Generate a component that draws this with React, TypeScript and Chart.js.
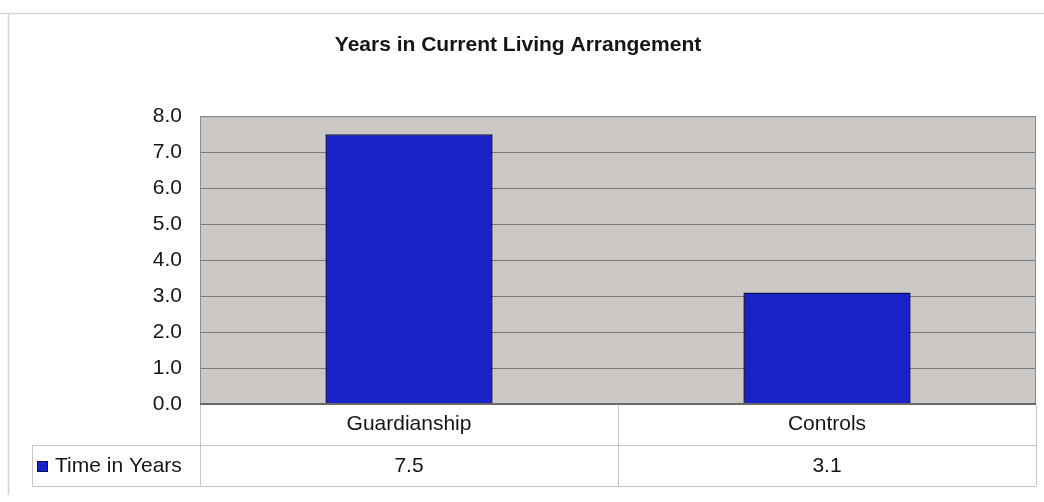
import React, { useEffect, useRef } from "react";
import { Chart, registerables } from "chart.js";

Chart.register(...registerables);

const TITLE = "Years in Current Living Arrangement";
const CATEGORIES = ["Guardianship", "Controls"];
const SERIES_NAME = "Time in Years";
const SERIES_VALUES = [7.5, 3.1];
const Y_MIN = 0;
const Y_MAX = 8;
const Y_STEP = 1;

const FONT = "'Liberation Sans', Arial, sans-serif";
const FS = 21;
const BAR_COLOR = "#1a23c8";
const BAR_BORDER = "#0a0f50";
const PLOT_BG = "#cbc8c6";
const GRID = "#7a7a7a";
const TABLE_LINE = "#c4c4c4";
const TEXT = "#151515";

const W = 1044;
const H = 502;

const framePlugin = {
  id: "frame",
  beforeDraw(chart: any) {
    const { ctx, chartArea } = chart;
    ctx.save();
    ctx.fillStyle = "#ffffff";
    ctx.fillRect(0, 0, chart.width, chart.height);
    ctx.strokeStyle = "#d4d4d4";
    ctx.lineWidth = 1.5;
    ctx.beginPath();
    ctx.moveTo(0, 13.5);
    ctx.lineTo(W, 13.5);
    ctx.moveTo(8.5, 13.5);
    ctx.lineTo(8.5, 495);
    ctx.stroke();
    ctx.fillStyle = PLOT_BG;
    ctx.fillRect(chartArea.left, chartArea.top, chartArea.right - chartArea.left, chartArea.bottom - chartArea.top);
    ctx.restore();
  },
  afterDraw(chart: any) {
    const { ctx, chartArea } = chart;
    const L = chartArea.left;
    const R = chartArea.right;
    const B = chartArea.bottom;
    const row1 = B + 41;
    const row2 = B + 82;
    const tableLeft = 32;
    ctx.save();
    ctx.strokeStyle = "#8c8c8c";
    ctx.lineWidth = 1;
    ctx.beginPath();
    ctx.moveTo(L + 0.5, chartArea.top + 0.5);
    ctx.lineTo(R - 0.5, chartArea.top + 0.5);
    ctx.lineTo(R - 0.5, B);
    ctx.moveTo(L + 0.5, chartArea.top);
    ctx.lineTo(L + 0.5, B);
    ctx.stroke();
    ctx.strokeStyle = "#6a6a6a";
    ctx.lineWidth = 2;
    ctx.beginPath();
    ctx.moveTo(L, B);
    ctx.lineTo(R, B);
    ctx.stroke();
    ctx.strokeStyle = TABLE_LINE;
    ctx.lineWidth = 1;
    ctx.beginPath();
    const n = CATEGORIES.length;
    const colW = (R - L) / n;
    for (let i = 0; i <= n; i++) {
      const cx = Math.round(L + i * colW) + 0.5;
      ctx.moveTo(cx, B + 1);
      ctx.lineTo(cx, row2);
    }
    ctx.moveTo(tableLeft, row1 + 0.5);
    ctx.lineTo(R, row1 + 0.5);
    ctx.moveTo(tableLeft, row2 + 0.5);
    ctx.lineTo(R, row2 + 0.5);
    ctx.moveTo(tableLeft + 0.5, row1);
    ctx.lineTo(tableLeft + 0.5, row2);
    ctx.stroke();
    ctx.fillStyle = BAR_COLOR;
    ctx.fillRect(38, 462, 9, 9);
    ctx.strokeStyle = BAR_BORDER;
    ctx.lineWidth = 1;
    ctx.strokeRect(37.5, 461.5, 10, 10);
    ctx.fillStyle = TEXT;
    ctx.font = `${FS}px ${FONT}`;
    ctx.textBaseline = "middle";
    ctx.textAlign = "left";
    ctx.fillText(SERIES_NAME, 55, 466);
    ctx.textAlign = "center";
    SERIES_VALUES.forEach((v, i) => {
      const cx = L + (i + 0.5) * colW;
      ctx.fillText(v.toFixed(1), cx, 466);
    });
    ctx.restore();
  },
};

export default function App() {
  const ref = useRef<HTMLCanvasElement>(null);
  useEffect(() => {
    document.body.style.margin = "0";
    const chart = new Chart(ref.current!, {
      type: "bar",
      data: {
        labels: CATEGORIES,
        datasets: [
          {
            label: SERIES_NAME,
            data: SERIES_VALUES,
            backgroundColor: BAR_COLOR,
            borderColor: BAR_BORDER,
            borderWidth: 1.5,
            categoryPercentage: 0.8,
            barPercentage: 0.5,
          },
        ],
      },
      options: {
        responsive: false,
        animation: false,
        layout: { padding: { left: 0, right: 8, top: 0, bottom: 0 } },
        plugins: {
          legend: { display: false },
          tooltip: { enabled: false },
          title: {
            display: true,
            text: TITLE,
            color: TEXT,
            font: { family: FONT, size: 21, weight: "bold" },
            padding: { top: 33, bottom: 58 },
          },
        },
        scales: {
          x: {
            grid: { display: false, drawTicks: false },
            border: { display: false },
            ticks: {
              color: TEXT,
              font: { family: FONT, size: FS },
              padding: 8,
            },
            afterFit: (s: any) => {
              s.height = 98;
            },
          },
          y: {
            min: Y_MIN,
            max: Y_MAX,
            grid: { color: GRID, drawTicks: false, lineWidth: 1 },
            border: { display: false },
            ticks: {
              stepSize: Y_STEP,
              color: TEXT,
              font: { family: FONT, size: FS },
              padding: 18,
              callback: (v: any) => Number(v).toFixed(1),
            },
            afterFit: (s: any) => {
              s.width = 200;
            },
          },
        },
      },
      plugins: [framePlugin],
    });
    return () => chart.destroy();
  }, []);
  return (
    <div style={{ position: "absolute", left: 0, top: 0, width: W, height: H }}>
      <canvas ref={ref} width={W} height={H} />
    </div>
  );
}
